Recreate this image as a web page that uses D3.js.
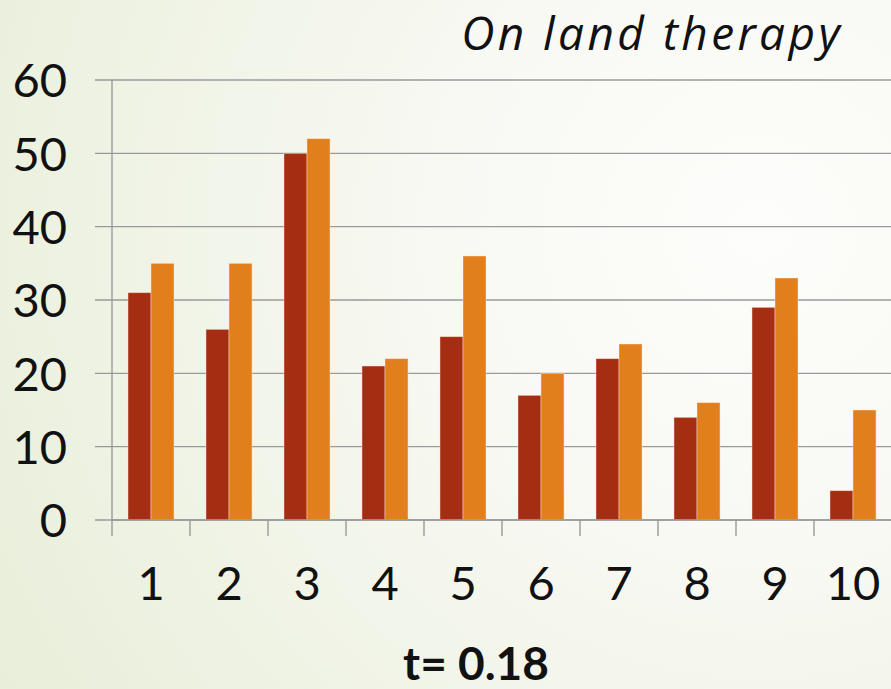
<!DOCTYPE html>
<html>
<head>
<meta charset="utf-8">
<script src="https://cdn.jsdelivr.net/npm/d3@7/dist/d3.min.js"></script>
<style>
  html, body { margin: 0; padding: 0; }
  svg { display: block; }
</style>
</head>
<body>
<script>
// Patient scores per subject, before and after on-land therapy
const categories = ["1", "2", "3", "4", "5", "6", "7", "8", "9", "10"];
const seriesNames = ["Before", "After"];
const beforeValues = [31, 26, 50, 21, 25, 17, 22, 14, 29, 4];
const afterValues = [35, 35, 52, 22, 36, 20, 24, 16, 33, 15];
const yTicks = [0, 10, 20, 30, 40, 50, 60];
const titleText = "On land therapy";
const statText = "t= 0.18";

const W = 891, H = 689;
const colors = ["#a52d12", "#e07f1b"];
const fontFamily = "Lato, 'Open Sans', sans-serif";

const svg = d3.select("body").append("svg")
  .attr("width", W).attr("height", H);

// Soft radial background
const defs = svg.append("defs");
const grad = defs.append("radialGradient")
  .attr("id", "bg").attr("gradientUnits", "userSpaceOnUse")
  .attr("cx", 760).attr("cy", 230).attr("r", 900);
grad.append("stop").attr("offset", "0%").attr("stop-color", "#fdfdfb");
grad.append("stop").attr("offset", "35%").attr("stop-color", "#f8f9f3");
grad.append("stop").attr("offset", "100%").attr("stop-color", "#e8eed9");
svg.append("rect").attr("width", W).attr("height", H).attr("fill", "url(#bg)");

const plot = { left: 112, right: 892, top: 80, bottom: 520 };

const x0 = d3.scaleBand().domain(categories)
  .range([plot.left, plot.right]).padding(0);
const x1 = d3.scaleBand().domain(seriesNames)
  .range([x0.bandwidth() * 0.205, x0.bandwidth() * 0.795]).padding(0);
const y = d3.scaleLinear().domain([0, 60]).range([plot.bottom, plot.top]);

const rows = categories.map((c, i) => ({
  cat: c,
  vals: [beforeValues[i], afterValues[i]]
}));

// Horizontal gridlines
svg.append("g").selectAll("line").data(yTicks).join("line")
  .attr("x1", plot.left - 17).attr("x2", W)
  .attr("y1", d => y(d)).attr("y2", d => y(d))
  .attr("stroke", "#9a9a9a").attr("stroke-width", 1.4);

// Bars
const groups = svg.append("g").selectAll("g").data(rows).join("g")
  .attr("transform", d => `translate(${x0(d.cat)},0)`);
groups.selectAll("rect")
  .data(d => d.vals.map((v, k) => ({ name: seriesNames[k], v, k })))
  .join("rect")
  .attr("x", d => x1(d.name))
  .attr("y", d => y(d.v))
  .attr("width", x1.bandwidth())
  .attr("height", d => y(0) - y(d.v))
  .attr("fill", d => colors[d.k])
  .attr("stroke", "rgba(255,235,220,0.55)")
  .attr("stroke-width", 0.8);

// Vertical axis line
svg.append("line")
  .attr("x1", plot.left).attr("x2", plot.left)
  .attr("y1", plot.top).attr("y2", plot.bottom + 16)
  .attr("stroke", "#9a9a9a").attr("stroke-width", 1.4);

// Baseline and category tick marks
const xAxis = d3.axisBottom(x0).tickSize(0).tickFormat(d => d);
const xg = svg.append("g")
  .attr("transform", `translate(0,${plot.bottom})`)
  .call(xAxis);
xg.select(".domain").remove();
xg.selectAll("text")
  .attr("y", 80)
  .attr("dy", 0)
  .attr("font-family", fontFamily)
  .attr("font-weight", 400)
  .attr("font-size", 47)
  .attr("fill", "#111");
svg.append("line")
  .attr("x1", plot.left).attr("x2", W)
  .attr("y1", plot.bottom).attr("y2", plot.bottom)
  .attr("stroke", "#9a9a9a").attr("stroke-width", 1.4);
svg.append("g").selectAll("line").data(categories.slice(1)).join("line")
  .attr("x1", d => x0(d)).attr("x2", d => x0(d))
  .attr("y1", plot.bottom).attr("y2", plot.bottom + 16)
  .attr("stroke", "#9a9a9a").attr("stroke-width", 1.4);

// Value axis labels
const yAxis = d3.axisLeft(y).tickValues(yTicks).tickSize(0).tickPadding(0);
const yg = svg.append("g")
  .attr("transform", `translate(67,0)`)
  .call(yAxis);
yg.select(".domain").remove();
yg.selectAll("text")
  .attr("x", 0)
  .attr("dy", "0.36em")
  .attr("font-family", fontFamily)
  .attr("font-weight", 400)
  .attr("font-size", 47)
  .attr("fill", "#111");

// Title
svg.append("text")
  .attr("x", 843).attr("y", 50)
  .attr("text-anchor", "end")
  .attr("font-family", "'Open Sans', sans-serif")
  .attr("font-style", "italic")
  .attr("font-weight", 400)
  .attr("font-size", 46)
  .attr("letter-spacing", 3.4)
  .attr("fill", "#111")
  .text(titleText);

// Test statistic
svg.append("text")
  .attr("x", 476).attr("y", 680)
  .attr("text-anchor", "middle")
  .attr("font-family", fontFamily)
  .attr("font-weight", "bold")
  .attr("font-size", 46)
  .attr("fill", "#111")
  .text(statText);
</script>
</body>
</html>
